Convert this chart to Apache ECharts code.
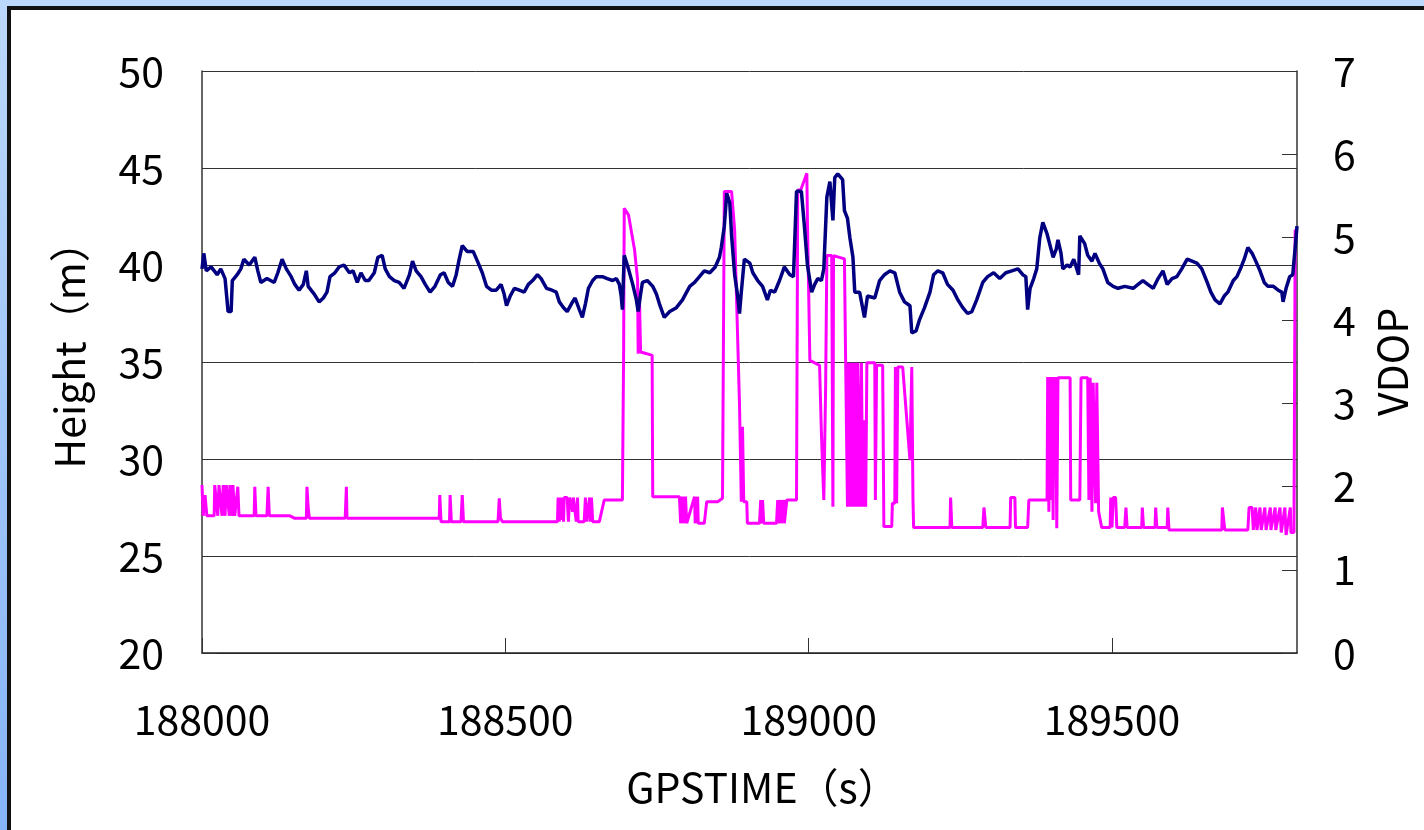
<!DOCTYPE html>
<html>
<head>
<meta charset="utf-8">
<script src="https://cdn.jsdelivr.net/npm/echarts@6/dist/echarts.min.js"></script>
<style>
html, body { margin: 0; padding: 0; }
body { width: 1424px; height: 830px; overflow: hidden; position: relative; background: linear-gradient(#bcd9fc, #86b4f7); }
#panel { position: absolute; left: 7px; top: 6px; width: 1440px; height: 850px; background: #fff; border-left: 4px solid #111; border-top: 4px solid #111; }
#main { position: absolute; left: 0; top: 0; width: 1424px; height: 830px; }
</style>
</head>
<body>
<div id="panel"></div>
<div id="main"></div>
<script>
// GPS time (s) vs antenna height (m)
var heightPts = [
    [188000, 39.8], [188003, 40.6], [188007, 39.7], [188015, 39.9], [188025, 39.5], [188031, 39.8], [188038, 39.3],
    [188043, 37.6], [188048, 37.6], [188050, 39.2], [188058, 39.5], [188064, 39.8], [188069, 40.3], [188078, 40.0],
    [188087, 40.4], [188092, 39.7], [188097, 39.1], [188107, 39.3], [188119, 39.1], [188125, 39.6], [188132, 40.3],
    [188139, 39.8], [188147, 39.4], [188153, 39.0], [188160, 38.7], [188167, 39.0], [188172, 39.7], [188175, 38.9],
    [188185, 38.5], [188193, 38.1], [188200, 38.3], [188206, 38.6], [188211, 39.4], [188219, 39.6], [188226, 39.9],
    [188234, 40.0], [188243, 39.6], [188249, 39.7], [188256, 39.1], [188262, 39.6], [188269, 39.2], [188275, 39.2],
    [188284, 39.6], [188290, 40.4], [188297, 40.5], [188302, 39.8], [188309, 39.4], [188317, 39.2], [188325, 39.1],
    [188333, 38.8], [188342, 39.5], [188347, 40.2], [188353, 39.7], [188361, 39.4], [188368, 39.0], [188376, 38.6],
    [188384, 38.9], [188393, 39.5], [188399, 39.6], [188406, 39.1], [188413, 38.9], [188419, 39.5], [188424, 40.3],
    [188429, 41.0], [188437, 40.7], [188447, 40.7], [188454, 40.2], [188462, 39.6], [188469, 38.9], [188477, 38.7],
    [188485, 38.7], [188493, 39.0], [188498, 38.5], [188502, 37.9], [188508, 38.4], [188515, 38.8], [188523, 38.7],
    [188531, 38.6], [188538, 39.0], [188545, 39.2], [188553, 39.5], [188559, 39.3], [188568, 38.8], [188577, 38.7],
    [188584, 38.6], [188589, 38.1], [188596, 37.8], [188602, 37.6], [188609, 38.0], [188615, 38.3], [188622, 37.7],
    [188627, 37.3], [188632, 38.0], [188637, 38.8], [188644, 39.2], [188650, 39.4], [188660, 39.4], [188668, 39.3],
    [188677, 39.2], [188683, 39.3], [188688, 39.0], [188691, 38.4], [188693, 37.7], [188696, 40.5], [188703, 39.8],
    [188710, 39.0], [188716, 38.2], [188719, 37.6], [188723, 38.5], [188726, 39.1], [188734, 39.2], [188743, 38.9],
    [188749, 38.5], [188754, 38.0], [188762, 37.3], [188771, 37.6], [188782, 37.8], [188792, 38.2], [188804, 38.9],
    [188812, 39.1], [188820, 39.4], [188828, 39.7], [188837, 39.6], [188846, 39.9], [188853, 40.4], [188856, 40.9],
    [188861, 42.0], [188865, 43.7], [188870, 43.2], [188873, 41.5], [188878, 39.5], [188883, 38.4], [188886, 37.5],
    [188889, 38.6], [188894, 40.3], [188903, 40.1], [188908, 39.6], [188916, 39.2], [188924, 38.9], [188932, 38.2],
    [188937, 38.7], [188944, 38.6], [188952, 39.2], [188960, 39.9], [188969, 39.5], [188975, 39.4], [188980, 43.8],
    [188988, 43.8], [188993, 42.0], [188998, 40.0], [189005, 38.6], [189010, 39.0], [189015, 39.3], [189021, 39.2],
    [189025, 39.8], [189030, 43.5], [189035, 44.3], [189040, 42.3], [189043, 44.5], [189048, 44.7], [189056, 44.4],
    [189059, 42.8], [189064, 42.4], [189068, 41.4], [189073, 40.4], [189076, 38.6], [189084, 38.6], [189092, 37.3],
    [189097, 38.4], [189109, 38.3], [189117, 39.2], [189125, 39.5], [189134, 39.7], [189142, 39.6], [189150, 38.6],
    [189158, 38.1], [189167, 37.9], [189170, 36.5], [189177, 36.6], [189183, 37.2], [189191, 37.8], [189200, 38.6],
    [189206, 39.5], [189213, 39.7], [189221, 39.6], [189229, 39.0], [189238, 38.7], [189246, 38.2], [189254, 37.8],
    [189262, 37.5], [189269, 37.6], [189277, 38.2], [189287, 39.1], [189295, 39.4], [189305, 39.6], [189315, 39.3],
    [189325, 39.6], [189335, 39.7], [189345, 39.8], [189353, 39.5], [189358, 39.4], [189361, 37.7], [189365, 38.8],
    [189371, 39.3], [189376, 39.8], [189381, 41.4], [189386, 42.2], [189393, 41.6], [189398, 41.0], [189403, 40.4],
    [189408, 40.8], [189411, 41.3], [189416, 40.6], [189419, 39.8], [189426, 40.0], [189431, 39.9], [189437, 40.3],
    [189442, 39.8], [189445, 39.5], [189447, 41.5], [189455, 41.1], [189460, 40.5], [189467, 40.2], [189472, 40.6],
    [189479, 40.1], [189485, 39.8], [189493, 39.1], [189502, 38.9], [189510, 38.8], [189521, 38.9], [189535, 38.8],
    [189543, 39.0], [189551, 39.2], [189559, 39.0], [189568, 38.8], [189576, 39.3], [189584, 39.7], [189591, 39.0],
    [189599, 39.3], [189607, 39.4], [189615, 39.8], [189624, 40.3], [189632, 40.2], [189640, 40.1], [189648, 39.8],
    [189657, 39.1], [189663, 38.6], [189670, 38.2], [189678, 38.0], [189685, 38.4], [189691, 38.6], [189700, 39.2],
    [189706, 39.4], [189713, 39.9], [189718, 40.3], [189724, 40.9], [189731, 40.6], [189737, 40.2], [189744, 39.7],
    [189751, 39.1], [189757, 38.9], [189766, 38.9], [189774, 38.7], [189780, 38.6], [189782, 38.1], [189787, 38.8],
    [189793, 39.4], [189798, 39.5], [189802, 40.9], [189805, 42.0]
];

// GPS time (s) vs VDOP
var vdopPts = [
    [188000, 2.02], [188002, 1.65], [188005, 1.9], [188008, 1.65], [188020, 1.65], [188021, 2.02], [188026, 1.65],
    [188028, 2.02], [188031, 2.02], [188033, 1.65], [188035, 2.02], [188038, 1.65], [188040, 2.02], [188043, 2.02],
    [188045, 1.65], [188046, 2.02], [188050, 1.65], [188051, 2.02], [188054, 1.65], [188059, 2.0], [188061, 1.65],
    [188086, 1.65], [188087, 2.0], [188089, 1.65], [188107, 1.65], [188109, 2.0], [188111, 1.65], [188145, 1.65],
    [188153, 1.62], [188172, 1.62], [188173, 2.0], [188175, 1.75], [188177, 1.62], [188236, 1.62], [188238, 2.0],
    [188239, 1.62], [188391, 1.62], [188392, 1.9], [188394, 1.58], [188408, 1.58], [188409, 1.9], [188411, 1.58],
    [188427, 1.58], [188429, 1.9], [188431, 1.58], [188488, 1.58], [188490, 1.86], [188492, 1.62], [188495, 1.58],
    [188586, 1.58], [188587, 1.87], [188589, 1.58], [188591, 1.87], [188592, 1.6], [188594, 1.87], [188596, 1.58],
    [188597, 1.87], [188602, 1.87], [188604, 1.58], [188606, 1.87], [188611, 1.7], [188612, 1.87], [188617, 1.58],
    [188619, 1.87], [188620, 1.58], [188630, 1.58], [188632, 1.87], [188634, 1.58], [188639, 1.87], [188640, 1.58],
    [188642, 1.87], [188644, 1.58], [188655, 1.58], [188663, 1.84], [188693, 1.84], [188695, 3.62], [188696, 5.35],
    [188703, 5.27], [188713, 4.85], [188718, 4.49], [188719, 3.6], [188721, 4.3], [188723, 3.62], [188733, 3.6],
    [188742, 3.58], [188743, 1.88], [188787, 1.88], [188789, 1.56], [188792, 1.88], [188794, 1.56], [188797, 1.88],
    [188799, 1.56], [188812, 1.88], [188813, 1.56], [188817, 1.88], [188818, 1.56], [188828, 1.56], [188832, 1.82],
    [188850, 1.82], [188858, 1.86], [188860, 1.86], [188861, 5.55], [188873, 5.55], [188878, 5.09], [188886, 3.0],
    [188889, 1.82], [188891, 2.72], [188893, 1.82], [188898, 1.82], [188899, 1.56], [188919, 1.56], [188921, 1.84],
    [188922, 1.56], [188924, 1.84], [188926, 1.56], [188947, 1.56], [188949, 1.84], [188950, 1.56], [188954, 1.84],
    [188955, 1.56], [188959, 1.84], [188960, 1.56], [188964, 1.84], [188980, 1.84], [188982, 5.57], [188987, 5.57],
    [188997, 5.77], [188998, 5.2], [189002, 3.52], [189018, 3.46], [189021, 2.65], [189025, 1.84], [189028, 3.2],
    [189030, 4.78], [189038, 4.78], [189040, 1.76], [189041, 4.78], [189059, 4.74], [189061, 3.49], [189063, 3.49],
    [189064, 1.76], [189066, 3.49], [189069, 1.76], [189071, 3.49], [189074, 1.76], [189076, 3.49], [189079, 1.76],
    [189081, 3.49], [189084, 1.76], [189087, 3.49], [189089, 1.76], [189092, 2.8], [189094, 1.76], [189096, 3.49],
    [189109, 3.49], [189110, 1.84], [189112, 3.46], [189122, 3.46], [189124, 1.52], [189137, 1.52], [189138, 1.8],
    [189142, 1.8], [189143, 3.44], [189145, 1.8], [189147, 3.44], [189155, 3.44], [189167, 2.32], [189170, 3.44],
    [189172, 1.84], [189173, 1.51], [189233, 1.51], [189234, 1.87], [189236, 1.51], [189287, 1.51], [189289, 1.75],
    [189292, 1.51], [189332, 1.51], [189333, 1.87], [189340, 1.87], [189341, 1.51], [189361, 1.51], [189363, 1.84],
    [189393, 1.84], [189394, 3.32], [189396, 1.7], [189398, 3.32], [189399, 1.84], [189401, 3.32], [189403, 1.6],
    [189404, 3.32], [189406, 2.2], [189407, 3.32], [189409, 1.5], [189411, 3.31], [189431, 3.31], [189432, 1.84],
    [189447, 1.84], [189449, 3.31], [189460, 3.31], [189462, 1.84], [189464, 3.31], [189467, 1.7], [189469, 3.25],
    [189473, 1.8], [189475, 3.25], [189478, 1.7], [189480, 1.68], [189483, 1.51], [189497, 1.51], [189498, 1.87],
    [189500, 1.51], [189502, 1.87], [189506, 1.87], [189508, 1.51], [189521, 1.51], [189523, 1.75], [189525, 1.51],
    [189549, 1.51], [189550, 1.75], [189552, 1.51], [189571, 1.51], [189572, 1.75], [189574, 1.51], [189591, 1.51],
    [189592, 1.75], [189594, 1.48], [189681, 1.48], [189682, 1.75], [189685, 1.75], [189686, 1.48], [189724, 1.48],
    [189726, 1.75], [189731, 1.75], [189733, 1.48], [189737, 1.75], [189739, 1.48], [189744, 1.75], [189746, 1.48],
    [189752, 1.75], [189754, 1.48], [189761, 1.75], [189762, 1.48], [189769, 1.75], [189770, 1.48], [189777, 1.75],
    [189779, 1.45], [189785, 1.75], [189787, 1.42], [189794, 1.75], [189795, 1.45], [189800, 1.45], [189802, 5.09],
    [189805, 5.05]
];

var xTicks = { min: 188000, max: 189805, step: 500 };
var heightTicks = { min: 20, max: 50, step: 5 };
var vdopTicks = { min: 0, max: 7, step: 1 };

var font = '"Noto Sans CJK JP", "Noto Sans", sans-serif';
var textStyle = { fontSize: 41, color: '#000', fontFamily: font };

function renderChart() {
    var dom = document.getElementById('main');
    var myChart = echarts.init(dom, null, { renderer: 'canvas' });

    var option = {
        animation: false,
        backgroundColor: 'transparent',
        grid: {
            left: 202,
            top: 71,
            width: 1095,
            height: 582
        },
        xAxis: {
            type: 'value',
            min: xTicks.min,
            max: xTicks.max,
            interval: xTicks.step,
            name: 'GPSTIME（s）',
            nameLocation: 'middle',
            nameGap: 114,
            // the full-width closing paren carries trailing space, nudge text right
            nameTextStyle: Object.assign({ padding: [0, 0, 0, 26] }, textStyle),
            axisLine: { show: true, lineStyle: { color: '#222', width: 1.5 } },
            axisTick: { show: true, inside: true, length: 15, lineStyle: { color: '#333' } },
            axisLabel: Object.assign({
                margin: 46,
                showMaxLabel: false,
                formatter: function (v) { return String(v); }
            }, textStyle),
            splitLine: { show: false }
        },
        yAxis: [{
                type: 'value',
                min: heightTicks.min,
                max: heightTicks.max,
                interval: heightTicks.step,
                name: 'Height（m）',
                nameLocation: 'middle',
                nameRotate: 90,
                nameGap: 112,
                nameTextStyle: Object.assign({ padding: [0, 0, 0, 34] }, textStyle),
                axisLine: { show: true, lineStyle: { color: '#333', width: 1.5 } },
                axisTick: { show: true, inside: true, length: 15, lineStyle: { color: '#333' } },
                axisLabel: Object.assign({ margin: 38 }, textStyle),
                splitLine: { show: true, lineStyle: { color: '#333', width: 1 } }
            },
            {
                type: 'value',
                position: 'right',
                min: vdopTicks.min,
                max: vdopTicks.max,
                interval: vdopTicks.step,
                name: 'VDOP',
                nameLocation: 'middle',
                nameRotate: 90,
                nameGap: 75,
                nameTextStyle: textStyle,
                axisLine: { show: true, lineStyle: { color: '#333', width: 1.5 } },
                axisTick: { show: true, inside: true, length: 15, lineStyle: { color: '#333' } },
                axisLabel: Object.assign({ margin: 36 }, textStyle),
                splitLine: { show: false }
            }
        ],
        series: [{
                name: 'VDOP',
                type: 'line',
                yAxisIndex: 1,
                showSymbol: false,
                lineStyle: { color: '#ff00ff', width: 3 },
                data: vdopPts
            },
            {
                name: 'Height',
                type: 'line',
                yAxisIndex: 0,
                showSymbol: false,
                lineStyle: { color: '#000080', width: 3.5 },
                data: heightPts
            }
        ]
    };

    myChart.setOption(option);
}
renderChart();
</script>
</body>
</html>
